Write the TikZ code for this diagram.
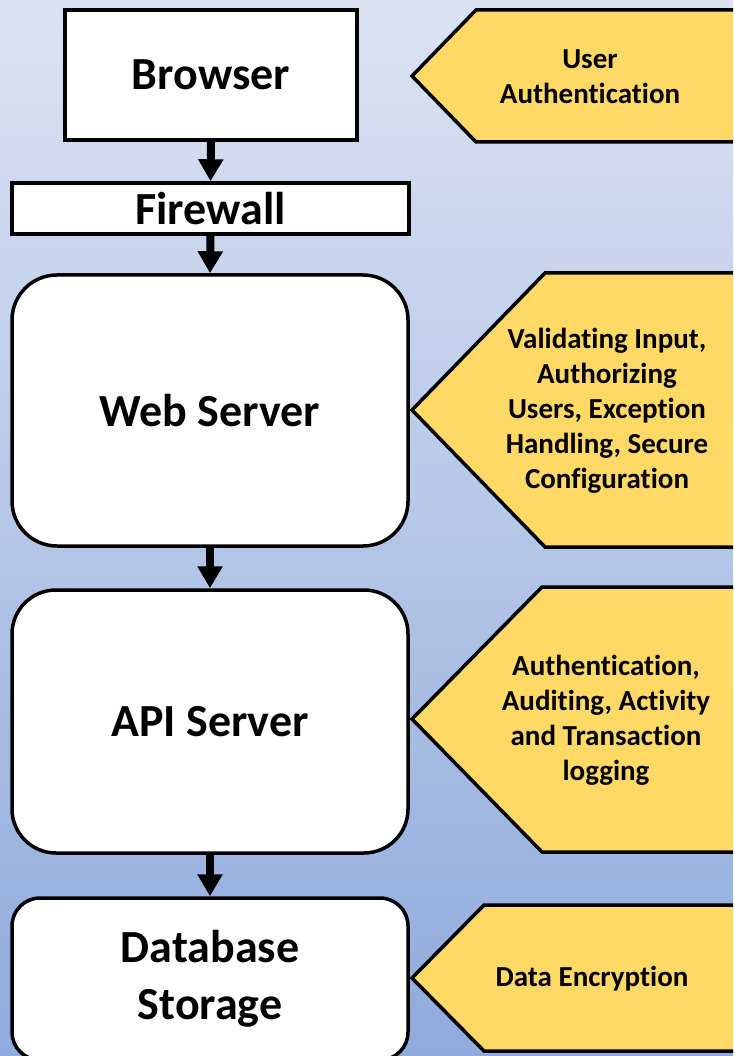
\documentclass[tikz,border=0pt]{standalone}
\usepackage{fontspec}
\setmainfont{Carlito}[Ligatures=NoCommon]
\usetikzlibrary{arrows.meta}
\definecolor{bgtop}{RGB}{219,227,243}
\definecolor{bgbot}{RGB}{143,170,220}
\definecolor{notefill}{RGB}{255,217,102}
\tikzset{
  box/.style={draw=black, line width=3.5pt, fill=white, inner sep=0pt, align=center,
              font=\fontsize{46}{57}\selectfont\bfseries},
  flow/.style={draw=black, line width=8pt, -{Triangle[width=24pt,length=22pt]}},
  notebox/.style={draw=black, line width=3.5pt, fill=notefill, line join=miter},
  notetext/.style={align=center, inner sep=0pt, font=\fontsize{29}{35}\selectfont\bfseries},
}
\begin{document}
\begin{tikzpicture}[x=1pt,y=-1pt]
\useasboundingbox (0,0) rectangle (733,1056);
\clip (0,0) rectangle (733,1056);
% backdrop
\fill[top color=bgtop, bottom color=bgbot] (0,0) rectangle (733,1056);

% request path
\node[box, minimum width=292pt, minimum height=130pt] (browser) at (211,75) {Browser};
\node[box, minimum width=397pt, minimum height=51pt] (firewall) at (210.5,208.5) {Firewall};
\node[box, rounded corners=45pt, minimum width=396pt, minimum height=271pt] (web) at (210,410.5) {Web Server};
\node[box, rounded corners=44pt, minimum width=396pt, minimum height=263pt] (api) at (210,721.5) {API Server};
\node[box, rounded corners=28pt, minimum width=396pt, minimum height=162pt] (db) at (210,979) {Database\\Storage};

\draw[flow] (browser.south) -- (firewall.north);
\draw[flow] (firewall.south) -- (web.north);
\draw[flow] (web.south) -- (api.north);
\draw[flow] (api.south) -- (db.north);

% security notes
\draw[notebox] (412,76) -- (476,10) -- (760,10) -- (760,142) -- (476,142) -- cycle;
\node[notetext] (n1) at (590,77) {User\\Authentication};

\draw[notebox] (412,410) -- (545,273) -- (760,273) -- (760,547) -- (545,547) -- cycle;
\node[notetext] (n2) at (607,411) {Validating Input,\\Authorizing\\Users, Exception\\Handling, Secure\\Configuration};

\draw[notebox] (412,719) -- (542,587) -- (760,587) -- (760,852) -- (542,852) -- cycle;
\node[notetext] (n3) at (606,720) {Authentication,\\Auditing, Activity\\and Transaction\\logging};

\draw[notebox] (412,978) -- (484,905) -- (760,905) -- (760,1051) -- (484,1051) -- cycle;
\node[notetext] (n4) at (592,979) {Data Encryption};
\end{tikzpicture}
\end{document}
